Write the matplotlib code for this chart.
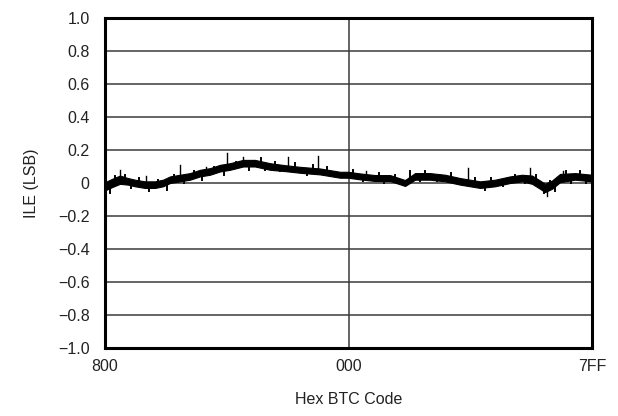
import matplotlib
matplotlib.use("Agg")
import matplotlib.pyplot as plt
import numpy as np

plt.rcParams['font.family'] = ['Liberation Sans', 'DejaVu Sans']

# Signed BTC code positions (800h .. 7FFh  ->  -2048 .. 2047)
codes = [-2048, -1989, -1922, -1855, -1796, -1712, -1628, -1560, -1501, -1417,
         -1333, -1249, -1165, -1081, -997, -887, -787, -660, -534, -408,
         -240, -72, -4, 97, 223, 349, 433, 475, 559, 685,
         812, 938, 1106, 1232, 1358, 1459, 1543, 1610, 1652, 1711,
         1778, 1905, 2047]
# Centre of the ILE trace (LSB)
ile_mid = [-0.02, 0.00, 0.02, 0.01, 0.00, -0.01, -0.01, 0.00, 0.02, 0.03,
           0.04, 0.06, 0.07, 0.09, 0.10, 0.12, 0.12, 0.10, 0.09, 0.08,
           0.07, 0.05, 0.05, 0.04, 0.03, 0.03, 0.01, 0.00, 0.04, 0.04,
           0.03, 0.01, -0.01, 0.00, 0.02, 0.03, 0.02, -0.01, -0.03, -0.01,
           0.03, 0.04, 0.03]
# Half-width of the code-to-code noise band (LSB)
ile_spread = [0.025, 0.025, 0.025, 0.02, 0.02, 0.02, 0.02, 0.02, 0.02, 0.02,
              0.02, 0.02, 0.02, 0.02, 0.02, 0.02, 0.02, 0.02, 0.018, 0.018,
              0.018, 0.018, 0.018, 0.018, 0.018, 0.018, 0.018, 0.018, 0.02, 0.02,
              0.02, 0.02, 0.02, 0.02, 0.02, 0.02, 0.025, 0.025, 0.025, 0.025,
              0.025, 0.02, 0.02]

# Isolated outlier codes and their ILE peaks
spike_codes = [-1922, -1417, -1022, -887, -509, -257, 1005, 1526, 1669, -1700, -1200, 150, 1800]
spike_vals = [0.08, 0.11, 0.18, 0.16, 0.16, 0.165, 0.09, 0.09, -0.08, 0.04, 0.10, 0.07, 0.07]

# Smaller excursions above and below the band
burr_codes = [-2010, -1960, -1880, -1830, -1760, -1680, -1600, -1530, -1470, -1380,
              -1300, -1230, -1130, -1050, -950, -840, -740, -700, -620, -580,
              -450, -350, -300, -180, -120, 40, 120, 260, 300, 390,
              520, 600, 640, 740, 860, 900, 1060, 1150, 1200, 1300,
              1400, 1480, 1580, 1640, 1690, 1740, 1830, 1870, 1950, 2000]
burr_vals = [-0.06, 0.04, 0.05, -0.03, 0.03, -0.05, 0.02, -0.04, 0.05, 0.00,
             0.07, 0.02, 0.10, 0.05, 0.13, 0.08, 0.15, 0.08, 0.13, 0.07,
             0.12, 0.05, 0.11, 0.10, 0.04, 0.08, 0.01, 0.06, 0.00, 0.05,
             0.07, 0.01, 0.07, 0.01, 0.06, 0.00, 0.03, -0.04, 0.03, -0.02,
             0.05, 0.00, 0.05, -0.06, 0.01, -0.05, 0.07, 0.00, 0.07, 0.00]

y_ticks = [-1.0, -0.8, -0.6, -0.4, -0.2, 0.0, 0.2, 0.4, 0.6, 0.8, 1.0]
y_labels = ['\u22121.0', '\u22120.8', '\u22120.6', '\u22120.4', '\u22120.2', '0',
            '0.2', '0.4', '0.6', '0.8', '1.0']
x_ticks = [-2048, 0, 2047]
x_labels = ['800', '000', '7FF']

fig = plt.figure(figsize=(6.18, 4.16), dpi=100)
ax = fig.add_axes([105 / 618, 1 - 348 / 416, (592 - 105) / 618, (348 - 18) / 416])

mid = np.array(ile_mid)
spread = np.array(ile_spread)
ax.fill_between(codes, mid - spread, mid + spread, color='black', lw=0.8,
                edgecolor='black', zorder=3)
for c, v, m in zip(spike_codes, spike_vals, np.interp(spike_codes, codes, ile_mid)):
    ax.plot([c, c], [m, v], color='black', lw=1.0, zorder=3)
for c, v, m in zip(burr_codes, burr_vals, np.interp(burr_codes, codes, ile_mid)):
    ax.plot([c, c], [m, v], color='black', lw=1.4, zorder=3)

ax.set_xlim(-2048, 2047)
ax.set_ylim(-1.0, 1.0)
ax.set_yticks(y_ticks)
ax.set_yticklabels(y_labels)
ax.set_xticks(x_ticks)
ax.set_xticklabels(x_labels)
ax.tick_params(axis='both', length=0, labelsize=11.5, colors='#222222')
ax.tick_params(axis='y', pad=11)
ax.tick_params(axis='x', pad=8)

for yv in y_ticks[1:-1]:
    ax.axhline(yv, color='#3a3a3a', lw=1.1, zorder=1)
ax.axvline(0, color='#3a3a3a', lw=1.1, zorder=1)

for s in ax.spines.values():
    s.set_linewidth(2.2)
    s.set_color('black')
    s.set_zorder(4)

ax.set_ylabel('ILE (LSB)', fontsize=11.5, color='#222222', labelpad=14)
ax.set_xlabel('Hex BTC Code', fontsize=11.5, color='#222222', labelpad=13)

fig.savefig('out.png', dpi=100)
